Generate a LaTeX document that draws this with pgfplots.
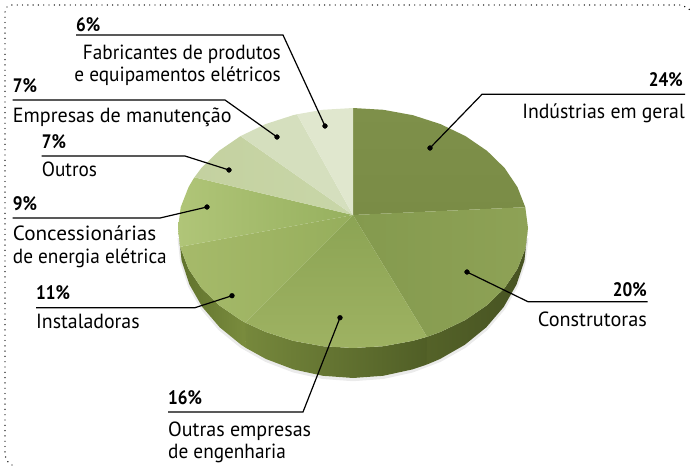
\documentclass[border=0pt]{standalone}
\usepackage{pgfplots}
\pgfplotsset{compat=1.18}
\usepackage{graphicx}
\usepackage{fontspec}
\setmainfont{PT Sans}
\newfontfamily\lab[FakeStretch=0.94]{PT Sans}
\newfontfamily\pct[FakeStretch=0.88]{PT Sans Bold}
\newcommand{\Lab}[4]{\node[anchor=base #1,inner sep=0pt,font=\lab\fontsize{20.5}{22}\selectfont] at (axis cs:#2,#3) {#4};}
\newcommand{\Pct}[4]{\node[anchor=base #1,inner sep=0pt,font=\pct\fontsize{19.5}{20}\selectfont] at (axis cs:#2,#3) {#4};}
\begin{document}
\begin{tikzpicture}
\begin{axis}[scale only axis,width=691pt,height=466pt,xmin=0,xmax=691,ymin=0,ymax=466,y dir=reverse,hide axis,clip=false]
\path (axis cs:0,0) rectangle (axis cs:691,466);
% dotted frame
\addplot[black,line width=1.4pt,line cap=round,dash pattern=on 0pt off 5.3pt] coordinates {(12,465)(7,461)(5,455)(5,12)(7,7)(12,5)(680,5)(686,7)(690,10)};
% soft shadow
\addplot[gray!35,line width=3pt,opacity=.45] coordinates {(527,238)(524.4,262)(516.5,286)(503.7,308.5)(486.3,329)(464.8,346.5)(440,360.5)(412.5,371)(383.2,377.5)(353,379.7)(322.8,377.5)(293.5,371)(266,360.5)(241.2,346.5)(219.7,329)(202.3,308.5)(189.5,286)(181.6,262)(179,238)};
% side
\addplot[draw=none,left color={rgb,255:red,84;green,98;blue,40},right color={rgb,255:red,70;green,82;blue,34}] coordinates {(427,336.8)(440.5,331.9)(465.5,319.9)(487.1,305.1)(504.6,288)(517.4,269)(525.3,248.8)(528,228)(527,236)(524.4,260.7)(516.5,284.6)(503.7,307)(486.3,327.3)(464.8,344.8)(440,359)(426.5,364.7)} -- cycle;
\addplot[draw=none,left color={rgb,255:red,118;green,136;blue,60},right color={rgb,255:red,80;green,94;blue,38}] coordinates {(245.3,322.6)(265.5,331.9)(293.1,340.8)(322.6,346.2)(353,348)(383.4,346.2)(412.9,340.8)(427,336.8)(426.5,364.7)(412.5,369.4)(383.2,375.8)(353,378)(322.8,375.8)(293.5,369.4)(266,359)(245.9,347.9)} -- cycle;
\addplot[draw=none,left color={rgb,255:red,96;green,114;blue,44},right color={rgb,255:red,122;green,140;blue,62}] coordinates {(178,228)(180.1,246.8)(188.6,269)(201.4,288)(218.9,305.1)(240.5,319.9)(245.3,322.6)(245.9,347.9)(241.2,344.8)(219.7,327.3)(202.3,307)(189.5,284.6)(181.6,260.7)(179,236)} -- cycle;
% top face
\addplot[draw=none,top color={rgb,255:red,126;green,144;blue,74},bottom color={rgb,255:red,122;green,140;blue,70}] coordinates {(353,215)(353,108)(383.4,109.8)(412.9,115.2)(440.5,124.1)(465.5,136.1)(487.1,150.9)(504.6,168)(517.4,187)(525.3,207.2)} -- cycle;
\addplot[draw=none,left color={rgb,255:red,132;green,154;blue,78},right color={rgb,255:red,142;green,162;blue,86}] coordinates {(353,215)(525.3,207.2)(528,228)(525.3,248.8)(517.4,269)(504.6,288)(487.1,305.1)(465.5,319.9)(440.5,331.9)(427,336.8)} -- cycle;
\addplot[draw=none,top color={rgb,255:red,140;green,164;blue,84},bottom color={rgb,255:red,158;green,178;blue,98}] coordinates {(353,215)(427,336.8)(412.9,340.8)(383.4,346.2)(353,348)(322.6,346.2)(293.1,340.8)(265.5,331.9)(245.3,322.6)} -- cycle;
\addplot[draw=none,left color={rgb,255:red,166;green,186;blue,106},right color={rgb,255:red,150;green,174;blue,92}] coordinates {(353,215)(245.3,322.6)(240.5,319.9)(218.9,305.1)(201.4,288)(188.6,269)(180.1,246.8)} -- cycle;
\addplot[draw=none,left color={rgb,255:red,176;green,197;blue,120},right color={rgb,255:red,150;green,176;blue,94}] coordinates {(353,215)(180.1,246.8)(178,228)(180.7,207.2)(188.6,187)(194.4,177.3)} -- cycle;
\addplot[draw=none,left color={rgb,255:red,196;green,209;blue,160},right color={rgb,255:red,200;green,214;blue,168}] coordinates {(353,215)(194.4,177.3)(201.4,168)(218.9,150.9)(240.5,136.1)} -- cycle;
\addplot[draw=none,fill={rgb,255:red,213;green,223;blue,190}] coordinates {(353,215)(240.5,136.1)(265.5,124.1)(293.1,115.2)(296.9,114.3)} -- cycle;
\addplot[draw=none,fill={rgb,255:red,224;green,231;blue,206}] coordinates {(353,215)(296.9,114.3)(322.6,109.8)(353,108)} -- cycle;
% leaders
\pgfplotsset{leader/.style={black,line width=1.2pt,mark=none},dot/.style={only marks,mark=*,mark size=2.4pt,mark options={fill=black,draw=black}}}
\addplot[leader] coordinates {(76,35)(283,35)(325,126)};
\addplot[dot] coordinates {(325,126)};
\addplot[leader] coordinates {(12.7,100)(225,100)(277,137)};
\addplot[dot] coordinates {(277,137)};
\addplot[leader] coordinates {(41.7,156)(185,156)(229,170)};
\addplot[dot] coordinates {(229,170)};
\addplot[leader] coordinates {(12.7,218)(160,218)(207,207)};
\addplot[dot] coordinates {(207,207)};
\addplot[leader] coordinates {(36,307.7)(195,307.7)(232,295.7)};
\addplot[dot] coordinates {(232,295.7)};
\addplot[leader] coordinates {(168,412)(303,412)(340,317.7)};
\addplot[dot] coordinates {(340,317.7)};
\addplot[leader] coordinates {(647.5,301.7)(528,301.7)(467,272)};
\addplot[dot] coordinates {(467,272)};
\addplot[leader] coordinates {(685,94.3)(482,94.3)(430,148)};
\addplot[dot] coordinates {(430,148)};
% text
\Pct{west}{76}{31.7}{6\%}
\Lab{east}{281}{59}{Fabricantes de produtos}
\Lab{east}{281}{81}{e equipamentos elétricos}
\Pct{west}{12.7}{92.7}{7\%}
\Lab{west}{12.7}{122}{\scalebox{1.04}[1]{Empresas de manutenção}}
\Pct{west}{41.7}{148}{7\%}
\Lab{west}{41.7}{176}{Outros}
\Pct{west}{12.7}{210.7}{9\%}
\Lab{west}{12.7}{240.7}{\scalebox{1.1}[1]{Concessionárias}}
\Lab{west}{12.7}{263}{de energia elétrica}
\Pct{west}{36}{299.3}{11\%}
\Lab{west}{36}{328}{\scalebox{1.03}[1]{Instaladoras}}
\Pct{west}{168}{404}{16\%}
\Lab{west}{168}{436}{\scalebox{1.04}[1]{Outras empresas}}
\Lab{west}{168}{458}{de engenharia}
\Pct{east}{683}{86}{24\%}
\Lab{east}{685}{118}{\scalebox{1.025}[1]{Indústrias em geral}}
\Pct{east}{647}{296}{20\%}
\Lab{east}{647}{326.7}{\scalebox{1.05}[1]{Construtoras}}
\end{axis}
\end{tikzpicture}
\end{document}
